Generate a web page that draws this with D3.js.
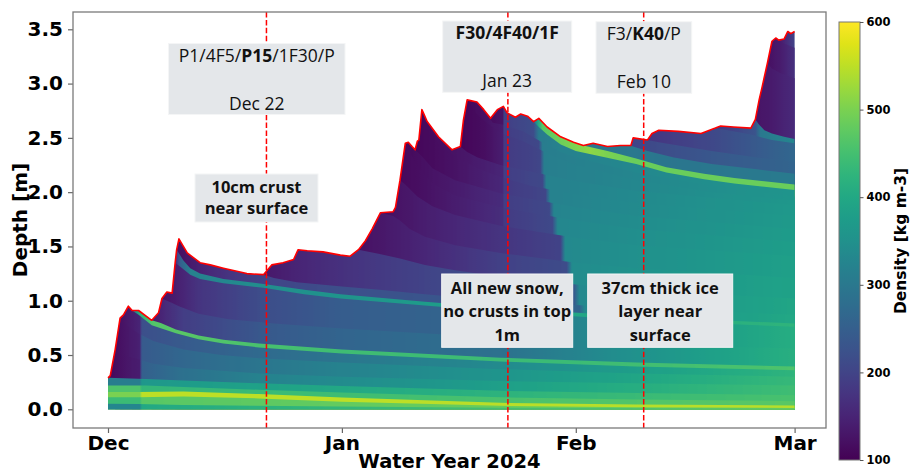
<!DOCTYPE html>
<html>
<head>
<meta charset="utf-8">
<script src="https://cdn.jsdelivr.net/npm/d3@7"></script>
<style>
  html, body { margin: 0; padding: 0; background: #fff; }
  svg { display: block; }
  .tick text { font-family: "DejaVu Sans", sans-serif; font-weight: bold; }
</style>
</head>
<body>
<svg id="chart" width="911" height="473"></svg>
<script>
// ---------------------------------------------------------------
// Snowpack density evolution, water year 2024 (days after 1 Dec 2023)
// ---------------------------------------------------------------

// Snow surface height [m]
const surface = [
  [0,0.29],[0.3,0.31],[0.95,0.55],[1.6,0.84],[2.05,0.87],[2.7,0.95],[3.2,0.91],[4.05,0.91],
  [5.8,0.82],[6.7,0.89],[7.15,1.02],[7.8,1.08],[8.5,1.07],[8.9,1.35],[9.1,1.47],[9.4,1.57],
  [10.5,1.44],[12.2,1.35],[13.55,1.33],[15.3,1.30],[18.4,1.25],[20.6,1.24],[21.7,1.33],
  [23.2,1.35],[24.6,1.38],[25.2,1.47],[26.4,1.46],[28.5,1.45],[30.8,1.42],[32.1,1.41],
  [33.2,1.47],[34.1,1.55],[35,1.66],[36.1,1.81],[37.8,1.82],[38.1,1.86],[38.7,2.11],
  [39.4,2.45],[39.8,2.46],[40.3,2.42],[40.7,2.39],[41.0,2.47],[41.2,2.48],[41.6,2.76],
  [41.8,2.73],[42.3,2.65],[43.8,2.51],[45.6,2.39],[46.7,2.42],[47.1,2.66],[47.6,2.85],
  [48.9,2.83],[49.8,2.76],[50.7,2.68],[51.6,2.76],[52.4,2.79],[52.9,2.73],[54.0,2.69],
  [54.7,2.72],[55.6,2.70],[56.4,2.65],[57.1,2.68],[58.2,2.60],[60.0,2.51],[61.7,2.46],
  [63.0,2.43],[64.3,2.45],[66.2,2.42],[67.9,2.43],[69.3,2.43],[69.6,2.50],[71.5,2.48],
  [72.1,2.54],[73.0,2.57],[75.6,2.56],[78.6,2.54],[80.5,2.59],[81.2,2.61],[82.9,2.60],
  [85.2,2.59],[85.8,2.67],[86.3,2.85],[86.7,2.97],[87.4,3.19],[88.0,3.39],[88.5,3.42],
  [88.9,3.40],[89.6,3.41],[90.1,3.48],[90.5,3.46],[91,3.48]
];

// Layer interfaces [day, height m]; each one starts on the surface of its day
const ground      = [[0,0],[91,0]];
const oldBand1    = [[0,0.05],[4,0.048],[10,0.04],[31,0.025],[52,0.015],[91,0.008]];
const oldBand2    = [[0,0.11],[4,0.11],[10,0.118],[20,0.10],[31,0.07],[52,0.032],[70,0.02],[91,0.013]];
const oldBand3    = [[0,0.16],[4,0.16],[10,0.165],[20,0.14],[31,0.108],[52,0.06],[70,0.045],[91,0.036]];
const oldBand4    = [[0,0.22],[5,0.22],[10,0.205],[20,0.18],[31,0.155],[52,0.11],[70,0.09],[91,0.075]];
const oldSurface  = [[0,0.29],[5,0.28],[10,0.265],[20,0.24],[31,0.215],[52,0.17],[70,0.15],[91,0.13]];
const dec1Mid     = [[0.95,0.55],[2,0.5],[4,0.46],[6,0.42],[10,0.38],[20,0.33],[31,0.30],[52,0.26],[70,0.24],[91,0.22]];
const dec2Top     = [[1.6,0.84],[2.7,0.76],[4,0.70],[6,0.63],[10,0.55],[15,0.50],[20,0.47],[31,0.43],[52,0.37],[70,0.33],[91,0.30]];
const crust1Base  = [[3.2,0.91],[4.05,0.87],[5.8,0.775],[9,0.70],[12,0.645],[15.3,0.605],[20,0.57],[31,0.515],[52,0.44],[70,0.395],[91,0.36]];
const crust1Top   = [[5.8,0.82],[7,0.795],[9,0.735],[12,0.68],[15.3,0.64],[20,0.605],[31,0.55],[52,0.475],[70,0.43],[91,0.395]];
const dec8Snow    = [[7.15,1.02],[8.5,0.98],[9.4,0.95],[12,0.88],[16,0.83],[22,0.79],[31,0.745],[52,0.66],[70,0.60],[91,0.56]];
const dec9Base    = [[8.9,1.35],[10,1.29],[10.9,1.24],[12.2,1.20],[15.3,1.16],[20.6,1.12],[26,1.06],[30.8,1.02],[42,0.955],[52,0.90],[70,0.82],[91,0.76]];
const dec9Top     = [[9.1,1.47],[10,1.37],[10.9,1.30],[12.2,1.25],[15.3,1.20],[20.6,1.155],[26,1.10],[30.8,1.06],[42,0.99],[52,0.935],[70,0.855],[91,0.79]];
const dec21Crust  = [[20.6,1.24],[22,1.21],[25,1.17],[31,1.13],[36,1.10],[42,1.06],[52,1.00],[62,0.96],[70,0.93],[91,0.87]];
const jan2Snow    = [[33.2,1.47],[36,1.43],[38.7,1.39],[42,1.33],[46,1.28],[52,1.22],[62,1.15],[70,1.10],[91,1.02]];
const jan5Snow    = [[36.1,1.81],[37.8,1.78],[38.7,1.74],[40,1.66],[42,1.59],[46,1.51],[52,1.44],[62,1.35],[70,1.30],[91,1.21]];
const jan8Snow    = [[38.7,2.11],[39.4,2.07],[41,1.96],[43,1.87],[46,1.79],[52,1.69],[62,1.58],[70,1.51],[91,1.41]];
const jan9Snow    = [[39.4,2.45],[40.3,2.33],[41,2.24],[43,2.08],[46,1.97],[52,1.86],[62,1.74],[70,1.66],[91,1.54]];
const jan10Snow   = [[40.7,2.39],[41.6,2.33],[43,2.22],[46,2.11],[52,1.99],[62,1.86],[70,1.78],[91,1.66]];
const jan13Snow   = [[41.6,2.76],[42.3,2.62],[43.8,2.45],[45.6,2.35],[46.7,2.30],[49,2.22],[52,2.14],[56,2.06],[62,1.98],[70,1.90],[91,1.78]];
const jan16Snow   = [[46.7,2.42],[47.6,2.37],[49,2.32],[52,2.25],[56,2.19],[62,2.10],[70,2.01],[91,1.88]];
const jan18Snow   = [[47.6,2.85],[48.9,2.72],[49.8,2.66],[52,2.55],[55,2.47],[57,2.40],[60,2.30],[62,2.25],[66,2.18],[70,2.11],[80,2.00],[91,1.92]];
const jan19Snow   = [[49.8,2.76],[51,2.64],[52.4,2.62],[55,2.56],[57,2.48],[60,2.37],[62,2.32],[66,2.25],[70,2.18],[80,2.06],[91,1.96]];
const iceBase     = [[56.4,2.65],[57.1,2.60],[58.2,2.53],[60,2.44],[62,2.38],[64,2.35],[66,2.32],[70,2.26],[74,2.18],[79,2.12],[83,2.08],[91,2.02]];
const iceTop      = [[63,2.43],[64.3,2.41],[66.2,2.38],[70,2.31],[74,2.23],[79,2.17],[83,2.13],[91,2.07]];
const feb8Snow    = [[69.3,2.43],[69.6,2.42],[71.5,2.38],[75,2.32],[80,2.26],[86,2.21],[91,2.17]];
const feb10Snow   = [[71.5,2.48],[73,2.46],[75.6,2.43],[80,2.38],[86,2.32],[91,2.28]];
const feb19Snow   = [[80.5,2.59],[82.9,2.56],[85.2,2.53],[86.3,2.51],[88,2.48],[91,2.45]];
const feb25Snow   = [[85.8,2.67],[86.3,2.62],[87,2.57],[88,2.54],[89.6,2.51],[91,2.49]];
const feb27Snow   = [[87.4,3.19],[88,3.14],[89,3.10],[91,3.05]];
const feb28Snow   = [[88.5,3.42],[89.6,3.37],[91,3.33]];

const interfaces = [
  ground, oldBand1, oldBand2, oldBand3, oldBand4, oldSurface, dec1Mid, dec2Top,
  crust1Base, crust1Top, dec8Snow, dec9Base, dec9Top, dec21Crust, jan2Snow, jan5Snow,
  jan8Snow, jan9Snow, jan10Snow, jan13Snow, jan16Snow, jan18Snow, jan19Snow,
  iceBase, iceTop, feb8Snow, feb10Snow, feb19Snow, feb25Snow, feb27Snow, feb28Snow
];

// Density [kg m-3] of the layer lying on each interface, [day, density]
const layerDensity = [
  [[0,330],[4.2,330],[4.5,400],[20,420],[52,450],[91,475]],
  [[0,440],[4.2,440],[4.5,470],[31,480],[91,490]],
  [[0,500],[4.2,500],[4.5,550],[31,550],[91,545]],
  [[0,460],[4.2,460],[4.5,430],[31,445],[60,460],[91,470]],
  [[0,310],[4.2,310],[4.5,365],[31,400],[60,430],[91,455]],
  [[0,110],[4.2,140],[4.5,250],[10,285],[20,320],[31,340],[60,395],[91,445]],
  [[0.95,115],[4.2,145],[4.5,240],[10,265],[20,295],[31,320],[60,375],[91,435]],
  [[1.6,120],[4.2,150],[4.5,220],[10,240],[20,270],[31,295],[60,355],[91,425]],
  [[3.2,300],[4.2,420],[6,465],[10,470],[20,455],[31,445],[60,440],[91,460]],
  [[5.8,130],[7,150],[10,190],[20,235],[31,260],[52,285],[66,340],[91,415]],
  [[7.15,120],[9,140],[12,175],[20,215],[31,245],[52,265],[64,335],[91,410]],
  [[8.9,150],[9.6,250],[11,320],[20,345],[31,360],[60,395],[91,425]],
  [[9.1,115],[12,145],[16,175],[21,200],[31,220],[52,240],[62.5,260],[63.2,335],[91,400]],
  [[20.6,130],[25,150],[31,170],[42,200],[52,225],[61.8,240],[62.5,335],[91,395]],
  [[33.2,120],[40,145],[52,195],[60.8,215],[61.5,340],[91,388]],
  [[36.1,115],[42,140],[52,175],[60,200],[60.6,335],[91,382]],
  [[38.7,110],[44,130],[52.3,165],[52.5,185],[58.9,210],[59.6,330],[91,378]],
  [[39.4,112],[45,132],[52.3,162],[52.5,190],[58.5,208],[59.1,325],[91,374]],
  [[40.7,108],[46,124],[52.3,155],[52.5,184],[58.0,204],[58.6,320],[91,370]],
  [[41.6,112],[47,128],[52.3,152],[52.5,190],[57.6,208],[58.1,318],[91,368]],
  [[46.7,105],[50,118],[52.3,140],[52.5,184],[57.3,204],[57.8,312],[91,365]],
  [[47.6,110],[50,122],[52.3,138],[52.5,190],[57.1,208],[57.6,310],[91,362]],
  [[49.8,110],[52.3,125],[52.5,192],[56.4,215],[57.1,305],[60,320],[91,360]],
  [[56.4,260],[57,400],[57.6,470],[60,490],[64,515],[66,500],[70,485],[91,485]],
  [[63,290],[69.3,300],[75,295],[91,305]],
  [[69.3,200],[71.5,210],[80,235],[91,260]],
  [[71.5,175],[75,190],[80.5,210],[86,240],[91,265]],
  [[80.5,180],[83,200],[85.8,230],[86.5,300],[91,330]],
  [[85.8,125],[88,135],[91,160]],
  [[87.4,120],[89,135],[91,170]],
  [[88.5,125],[89.6,150],[91,200]]
];

// Axes
const monthDates  = ["2023-12-01", "2024-01-01", "2024-02-01", "2024-03-01"];
const monthLabels = ["Dec", "Jan", "Feb", "Mar"];
const depthTicks  = [0, 0.5, 1.0, 1.5, 2.0, 2.5, 3.0, 3.5];
const densityTicks = [100, 200, 300, 400, 500, 600];

// Observed profiles and notes
const obsDates = ["2023-12-22", "2024-01-23", "2024-02-10"];
const obsCodes = [
  [["P1/4F5/", false], ["P15", true], ["/1F30/P", false]],
  [["F30/4F40/1F", true]],
  [["F3/", false], ["K40", true], ["/P", false]]
];
const obsLabels = ["Dec 22", "Jan 23", "Feb 10"];
const obsNotes = [
  ["10cm crust", "near surface"],
  ["All new snow,", "no crusts in top", "1m"],
  ["37cm thick ice", "layer near", "surface"]
];

// ---------------------------------------------------------------
const frame = { left: 73, right: 826, top: 12, bottom: 428 };
const start = Date.UTC(2023, 11, 1);
const endDay = 91;
const toDate = d => new Date(start + d * 864e5);

const x = d3.scaleUtc()
  .domain([new Date(start), new Date(Date.UTC(2024, 2, 1))])
  .range([108, 794.6]);
const y = d3.scaleLinear().domain([0, 3.5]).range([409.3, 29.3]);
const rhoNorm = d3.scaleLinear().domain([100, 600]).range([0, 1]).clamp(true);
const colour = r => d3.interpolateViridis(rhoNorm(r));

const svg = d3.select("#chart");
const defs = svg.append("defs");
const plot = svg.append("g");

function rhoAt(series, t) {
  if (t <= series[0][0]) return series[0][1];
  for (let k = 1; k < series.length; k++) {
    if (t <= series[k][0]) {
      const [t0, r0] = series[k - 1], [t1, r1] = series[k];
      return r0 + (r1 - r0) * (t - t0) / (t1 - t0);
    }
  }
  return series[series.length - 1][1];
}

// Top of layer i: the snow surface until the next interface is laid down, then that interface
function upperBoundary(i) {
  const b0 = interfaces[i][0][0];
  if (i + 1 < interfaces.length) {
    const b1 = interfaces[i + 1][0][0];
    return surface.filter(p => p[0] >= b0 && p[0] < b1).concat(interfaces[i + 1]);
  }
  return surface.filter(p => p[0] >= b0);
}

const column = d3.area()
  .x(p => x(toDate(p[0])))
  .y0(y(0))
  .y1(p => y(p[1]));

// Youngest layers first; each older layer is painted over the part of the column it occupies
for (let i = interfaces.length - 1; i >= 0; i--) {
  const b0 = interfaces[i][0][0];
  const series = layerDensity[i];
  const grad = defs.append("linearGradient")
    .attr("id", "rho" + i)
    .attr("gradientUnits", "userSpaceOnUse")
    .attr("x1", x(toDate(b0))).attr("x2", x(toDate(endDay)))
    .attr("y1", 0).attr("y2", 0);
  const times = new Set();
  for (let t = b0; t <= endDay + 1e-9; t += 0.25) times.add(+t.toFixed(3));
  series.forEach(p => { if (p[0] >= b0 && p[0] <= endDay) times.add(p[0]); });
  [...times].sort((a, b) => a - b).forEach(t => {
    grad.append("stop")
      .attr("offset", (t - b0) / (endDay - b0))
      .attr("stop-color", colour(rhoAt(series, t)));
  });
  plot.append("path")
    .attr("d", column(upperBoundary(i)))
    .attr("fill", `url(#rho${i})`);
}

// Snow surface
plot.append("path")
  .attr("d", d3.line().x(p => x(toDate(p[0]))).y(p => y(p[1]))(surface))
  .attr("fill", "none")
  .attr("stroke", "red")
  .attr("stroke-width", 1.6)
  .attr("stroke-linejoin", "round");

// Profile dates
obsDates.forEach(ds => {
  const xd = x(new Date(ds + "T00:00:00Z"));
  svg.append("line")
    .attr("x1", xd).attr("x2", xd)
    .attr("y1", frame.top).attr("y2", frame.bottom)
    .attr("stroke", "red").attr("stroke-width", 1.5)
    .attr("stroke-dasharray", "5.5,2.4");
});

// Axes
const xAxis = d3.axisBottom(x)
  .tickValues(monthDates.map(s => new Date(s + "T00:00:00Z")))
  .tickFormat((d, i) => monthLabels[i])
  .tickSize(5).tickPadding(3);
const gx = svg.append("g").attr("transform", `translate(0,${frame.bottom})`).call(xAxis);
const yAxis = d3.axisLeft(y).tickValues(depthTicks).tickFormat(d3.format(".1f")).tickSize(5).tickPadding(5);
const gy = svg.append("g").attr("transform", `translate(${frame.left},0)`).call(yAxis);
[gx, gy].forEach(g => {
  g.select(".domain").remove();
  g.selectAll(".tick line").attr("stroke", "#666").attr("stroke-width", 1.2);
  g.selectAll(".tick text").attr("font-size", 20).attr("fill", "#000");
});

svg.append("rect")
  .attr("x", frame.left).attr("y", frame.top)
  .attr("width", frame.right - frame.left).attr("height", frame.bottom - frame.top)
  .attr("fill", "none").attr("stroke", "#7a7a7a").attr("stroke-width", 1.3);

svg.append("text")
  .attr("x", (frame.left + frame.right) / 2).attr("y", 467.5)
  .attr("text-anchor", "middle")
  .attr("font-family", "DejaVu Sans").attr("font-weight", "bold").attr("font-size", 19.5)
  .text("Water Year 2024");
svg.append("text")
  .attr("transform", `translate(27,${(frame.top + frame.bottom) / 2}) rotate(-90)`)
  .attr("text-anchor", "middle")
  .attr("font-family", "DejaVu Sans").attr("font-weight", "bold").attr("font-size", 20)
  .text("Depth [m]");

// Colour bar
const cb = { x: 839, w: 21, top: 22, bottom: 460 };
const cbScale = d3.scaleLinear().domain([100, 600]).range([cb.bottom, cb.top]);
const cbGrad = defs.append("linearGradient").attr("id", "cbGrad")
  .attr("x1", 0).attr("x2", 0).attr("y1", 1).attr("y2", 0);
d3.range(0, 1.0001, 0.05).forEach(t => {
  cbGrad.append("stop").attr("offset", t).attr("stop-color", d3.interpolateViridis(t));
});
svg.append("rect")
  .attr("x", cb.x).attr("y", cb.top).attr("width", cb.w).attr("height", cb.bottom - cb.top)
  .attr("fill", "url(#cbGrad)").attr("stroke", "#777").attr("stroke-width", 1);
const cbAxis = d3.axisRight(cbScale).tickValues(densityTicks).tickSize(3.5).tickPadding(3);
const gcb = svg.append("g").attr("transform", `translate(${cb.x + cb.w},0)`).call(cbAxis);
gcb.select(".domain").remove();
gcb.selectAll(".tick line").attr("stroke", "#555");
gcb.selectAll(".tick text").attr("font-size", 11.5).attr("fill", "#000");
svg.append("text")
  .attr("transform", `translate(906,${(cb.top + cb.bottom) / 2}) rotate(-90)`)
  .attr("text-anchor", "middle")
  .attr("font-family", "DejaVu Sans").attr("font-weight", "bold").attr("font-size", 15.5)
  .text("Density [kg m-3]");

// Note boxes
const boxFont = "'Open Sans', sans-serif";
const codeBoxes = [
  { x0: 168.5, x1: 345, y0: 43.5, y1: 114.5, b1: 61.7, b2: 110 },
  { x0: 442.7, x1: 571.7, y0: 21, y1: 92.3, b1: 39.3, b2: 87.3 },
  { x0: 596, x1: 691.7, y0: 21.7, y1: 93.3, b1: 40, b2: 88.3 }
];
codeBoxes.forEach((b, i) => {
  svg.append("rect")
    .attr("x", b.x0).attr("y", b.y0).attr("width", b.x1 - b.x0).attr("height", b.y1 - b.y0)
    .attr("fill", "#e4e7ea").attr("stroke", "#f4f5f6").attr("stroke-width", 1);
  const cx = (b.x0 + b.x1) / 2;
  const t1 = svg.append("text").attr("x", cx).attr("y", b.b1)
    .attr("text-anchor", "middle").attr("font-family", boxFont).attr("font-size", 17.5).attr("fill", "#111");
  obsCodes[i].forEach(([s, bold]) => {
    t1.append("tspan").attr("font-weight", bold ? "bold" : "normal").text(s);
  });
  svg.append("text").attr("x", cx).attr("y", b.b2)
    .attr("text-anchor", "middle").attr("font-family", boxFont).attr("font-size", 17.5).attr("fill", "#111")
    .text(obsLabels[i]);
});

const noteBoxes = [
  { x0: 195, x1: 318, y0: 174, y1: 222, base: [193.3, 214.3] },
  { x0: 441.7, x1: 572.7, y0: 274, y1: 347.3, base: [294, 317, 341] },
  { x0: 587.7, x1: 732.7, y0: 274, y1: 347.3, base: [294, 317, 341] }
];
noteBoxes.forEach((b, i) => {
  svg.append("rect")
    .attr("x", b.x0).attr("y", b.y0).attr("width", b.x1 - b.x0).attr("height", b.y1 - b.y0)
    .attr("fill", "#e4e7ea").attr("stroke", "#f4f5f6").attr("stroke-width", 1);
  obsNotes[i].forEach((line, k) => {
    svg.append("text").attr("x", (b.x0 + b.x1) / 2).attr("y", b.base[k])
      .attr("text-anchor", "middle").attr("font-family", boxFont).attr("font-weight", "bold")
      .attr("font-size", 16.5).attr("fill", "#111").text(line);
  });
});
</script>
</body>
</html>
